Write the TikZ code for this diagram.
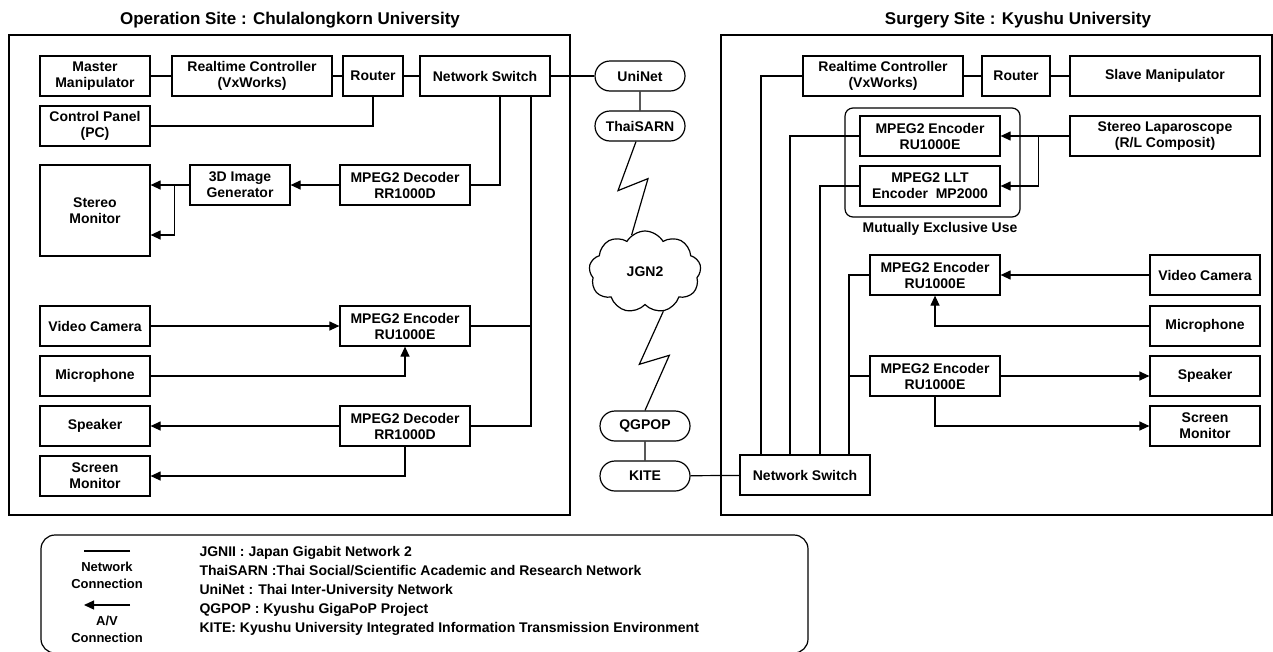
\documentclass[tikz,border=0pt]{standalone}
\usepackage{fontspec}
\setmainfont{Liberation Sans}
\usetikzlibrary{shapes.misc, shapes.symbols, arrows.meta}

\begin{document}
\begin{tikzpicture}[x=1pt, y=-1pt, font=\bfseries\fontsize{14}{16}\selectfont]
    \tikzstyle{block} = [rectangle, draw=black, line width=1.2pt, inner sep=0pt, minimum height=40pt, text centered, align=center]
    \tikzstyle{net} = [rounded rectangle, draw=black, line width=1.2pt, inner sep=0pt, minimum width=90pt, minimum height=30pt]
    \tikzstyle{frame} = [draw=black, line width=1.4pt]
    \tikzstyle{link} = [line width=1.2pt]
    \tikzstyle{av} = [line width=1.2pt, -{Triangle[length=10pt,width=9pt]}]
    \tikzstyle{title} = [font=\bfseries\fontsize{17}{20}\selectfont]

    \useasboundingbox (0,0) rectangle (1273,651);

    % site frames
    \draw [frame] (9,35) rectangle (570,515);
    \draw [frame] (721,35) rectangle (1272,515);
    \node (titleL) [title] at (290,20) {Operation Site : Chulalongkorn University};
    \node (titleR) [title] at (1018,20) {Surgery Site : Kyushu University};

    % operation site
    \node (master) [block, minimum width=110pt] at (95,76) {Master\\Manipulator};
    \node (rtcL) [block, minimum width=160pt] at (252,76) {Realtime Controller\\(VxWorks)};
    \node (routerL) [block, minimum width=60pt] at (373,76) {Router};
    \node (switchL) [block, minimum width=130pt] at (485,76) {Network Switch};
    \node (panel) [block, minimum width=110pt] at (95,126) {Control Panel\\(PC)};
    \node (stereo) [block, minimum width=110pt, minimum height=91pt] at (95,210.5) {Stereo\\Monitor};
    \node (gen3d) [block, minimum width=100pt] at (240,185) {3D Image\\Generator};
    \node (decL) [block, minimum width=130pt] at (405,185) {MPEG2 Decoder\\RR1000D};
    \node (camL) [block, minimum width=110pt] at (95,326) {Video Camera};
    \node (encL) [block, minimum width=130pt] at (405,326) {MPEG2 Encoder\\RU1000E};
    \node (micL) [block, minimum width=110pt] at (95,376) {Microphone};
    \node (spkL) [block, minimum width=110pt] at (95,426) {Speaker};
    \node (decL2) [block, minimum width=130pt] at (405,426) {MPEG2 Decoder\\RR1000D};
    \node (scrL) [block, minimum width=110pt] at (95,476) {Screen\\Monitor};

    % networks
    \node (uninet) [net] at (640,76) {UniNet};
    \node (thaisarn) [net] at (640,126) {ThaiSARN};
    \node (jgn) [cloud, draw=black, line width=1.2pt, cloud puffs=9, cloud puff arc=120, aspect=1.4, minimum width=112pt, minimum height=82pt, inner sep=0pt] at (645,272) {JGN2};
    \node (qgpop) [net] at (645,426) {QGPOP};
    \node (kite) [net] at (645,476) {KITE};

    % surgery site
    \node (rtcR) [block, minimum width=160pt] at (883,76) {Realtime Controller\\(VxWorks)};
    \node (routerR) [block, minimum width=68pt] at (1016,76) {Router};
    \node (slave) [block, minimum width=190pt] at (1165,76) {Slave Manipulator};
    \node (excl) [draw=black, line width=1.2pt, rounded corners=8pt, minimum width=175pt, minimum height=109pt, inner sep=0pt] at (932.5,162.5) {};
    \node (exclLabel) at (940,229) {Mutually Exclusive Use};
    \node (encR) [block, minimum width=140pt] at (930,136) {MPEG2 Encoder\\RU1000E};
    \node (lltR) [block, minimum width=140pt] at (930,186) {MPEG2 LLT\\Encoder\ \ MP2000};
    \node (lapa) [block, minimum width=190pt] at (1165,136) {Stereo Laparoscope\\(R/L Composit)};
    \node (encR2) [block, minimum width=130pt] at (935,275) {MPEG2 Encoder\\RU1000E};
    \node (camR) [block, minimum width=110pt] at (1205,275) {Video Camera};
    \node (micR) [block, minimum width=110pt] at (1205,326) {Microphone};
    \node (encR3) [block, minimum width=130pt] at (935,376) {MPEG2 Encoder\\RU1000E};
    \node (spkR) [block, minimum width=110pt] at (1205,376) {Speaker};
    \node (scrR) [block, minimum width=110pt] at (1205,426) {Screen\\Monitor};
    \node (switchR) [block, minimum width=130pt] at (805,475) {Network Switch};

    % network connections, operation site
    \draw [link] (master) -- (rtcL);
    \draw [link] (rtcL) -- (routerL);
    \draw [link] (routerL) -- (switchL);
    \draw [link] (switchL) -- (uninet);
    \draw [link] (panel) -| (routerL);
    \draw [link] (switchL.south) ++(15,0) |- (decL.east);
    \draw [link] (switchL.south) ++(46,0) |- (decL2.east);
    \draw [link] (encL.east) -- ++(61,0);

    % a/v connections, operation site
    \draw [av] (decL) -- (gen3d);
    \draw [av] (gen3d.west) -- (gen3d.west -| stereo.east);
    \draw [av] (gen3d.west) ++(-15,0) |- ([yshift=-24.5pt]stereo.east);
    \draw [av] (camL) -- (encL);
    \draw [av] (micL) -| (encL);
    \draw [av] (decL2) -- (spkL);
    \draw [av] (decL2) |- (scrL);

    % wide area links
    \draw [link] (uninet) -- (thaisarn);
    \draw [link] (thaisarn.south) ++(-4,0) -- ++(-18,49) -- ++(30,-12) -- (jgn.110);
    \draw [link] (jgn.-65) -- ++(-24,53) -- ++(30,-9) -- (qgpop.north);
    \draw [link] (qgpop) -- (kite);
    \draw [link] (kite) -- (switchR);

    % network connections, surgery site
    \draw [link] (rtcR) -- (routerR);
    \draw [link] (routerR) -- (slave);
    \draw [link] (switchR.north) ++(-44,0) |- (rtcR.west);
    \draw [link] (switchR.north) ++(-15,0) |- (encR.west);
    \draw [link] (switchR.north) ++(15,0) |- (lltR.west);
    \draw [link] (switchR.north) ++(44,0) |- (encR2.west);
    \draw [link] (encR3.west) -- ++(-21,0);

    % a/v connections, surgery site
    \draw [av] (lapa) -- (encR);
    \draw [av] (lapa.west) ++(-31,0) |- (lltR.east);
    \draw [av] (camR) -- (encR2);
    \draw [av] (micR) -| (encR2);
    \draw [av] (encR3) -- (spkR);
    \draw [av] (encR3) |- (scrR);

    % legend
    \draw [link, rounded corners=14pt] (41,535) rectangle (808,653);
    \coordinate (netA) at (130,551);
    \coordinate (netB) at (84,551);
    \coordinate (avA) at (130,605);
    \coordinate (avB) at (84,605);
    \draw [link] (netA) -- (netB);
    \draw [av] (avA) -- (avB);
    \node (netKey) [align=center, font=\bfseries\fontsize{13}{17}\selectfont] at (107,575) {Network\\Connection};
    \node (avKey) [align=center, font=\bfseries\fontsize{13}{17}\selectfont] at (107,629) {A/V\\Connection};
    \node (keyJgn) [anchor=base west] at (196,556) {JGNII : Japan Gigabit Network 2};
    \node (keyThai) [anchor=base west] at (196,575) {ThaiSARN :Thai Social/Scientific Academic and Research Network};
    \node (keyUni) [anchor=base west] at (196,594) {UniNet : Thai Inter-University Network};
    \node (keyQg) [anchor=base west] at (196,613) {QGPOP : Kyushu GigaPoP Project};
    \node (keyKite) [anchor=base west] at (196,632) {KITE: Kyushu University Integrated Information Transmission Environment};
\end{tikzpicture}
\end{document}
